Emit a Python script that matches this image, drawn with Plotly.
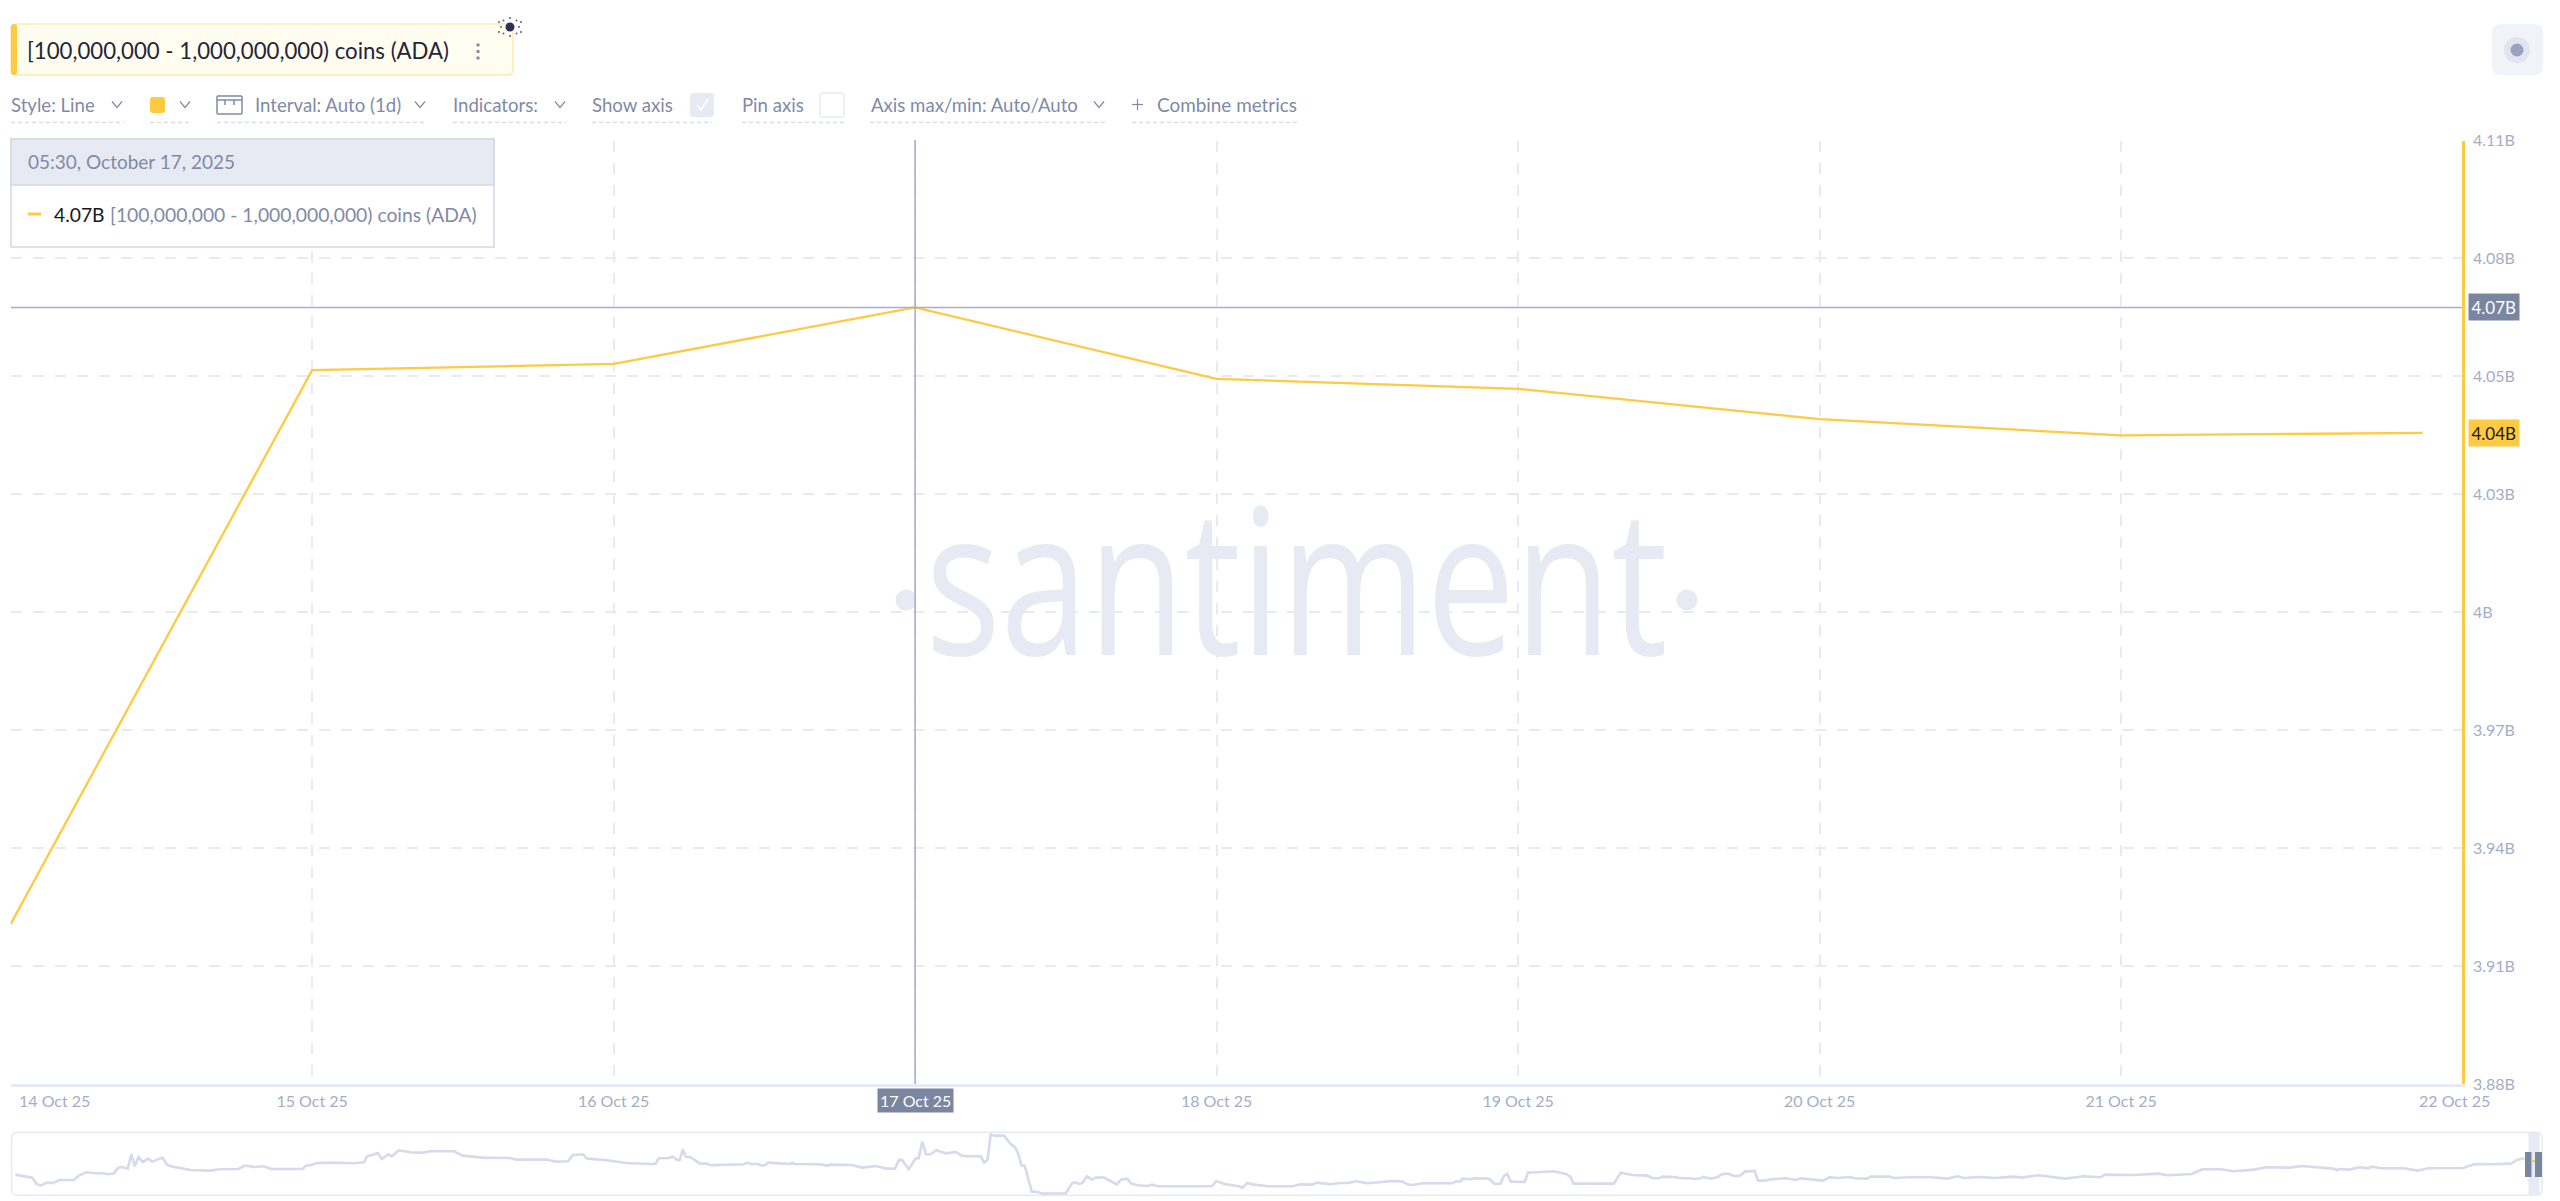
import plotly.graph_objects as go

W, H = 2560, 1201

# ---- data -----------------------------------------------------------------
dates = ["2025-10-14 05:30", "2025-10-15 05:30", "2025-10-16 05:30", "2025-10-17 05:30",
         "2025-10-18 05:30", "2025-10-19 05:30", "2025-10-20 05:30", "2025-10-21 05:30",
         "2025-10-22 05:30"]
values = [3.9225, 4.0559, 4.0574, 4.0710, 4.0538, 4.0514, 4.0441, 4.0402, 4.0408]
date_labels = ["14 Oct 25", "15 Oct 25", "16 Oct 25", "17 Oct 25", "18 Oct 25", "19 Oct 25",
               "20 Oct 25", "21 Oct 25", "22 Oct 25"]
y_ticks = [3.884, 3.9124, 3.9408, 3.9692, 3.9976, 4.026, 4.0544, 4.0828, 4.1112]
y_labels = ["3.88B", "3.91B", "3.94B", "3.97B", "4B", "4.03B", "4.05B", "4.08B", "4.11B"]
series_name = "[100,000,000 - 1,000,000,000) coins (ADA)"
hover_time = "05:30, October 17, 2025"

ov_a_pos = [37,60,78,87,98,113,128,143,178,190,208,230,250,262,275,285,295,308,317,325,334,344,358,367,392,403,420,460,505,530,575,590,615,635,655,730,738,750,765,800,855,878,885,903,911,921,937,945,962,990,1020,1040,1095,1115,1165,1230,1245,1320,1340,1370,1382,1405,1417,1460,1510,1568]
ov_a_lvl = [149,153,158,176,182,173,174,165,165,152,142,145,145,148,145,128,126,131,88,124,96,111,101,110,98,120,126,135,137,133,132,122,126,124,132,132,122,120,114,113,115,112,94,88,84,102,88,94,76,82,83,79,79,92,98,99,104,104,110,109,90,88,101,105,114,117]
ov_b_pos = [38,45,70,78,92,96,103,111,121,145,162,170,210,220,250,258,268,285,295,302,310,360,367,375,435,450,460,510,535,570,595,615,625,632,648,665,672,681,690,702,715,738,762,775,785,822,830,838,846,855,878,895,905,912,920,928,945,960,970,1027,1042,1048,1060,1068,1078,1090,1100,1118,1150,1160,1175,1185,1200,1225,1235,1250,1310,1320,1380,1390,1410,1445,1452,1465,1480,1515,1560]
ov_b_lvl = [116,100,99,95,106,105,74,96,96,116,116,121,120,118,118,113,117,117,122,120,113,117,114,117,118,122,119,120,128,123,131,131,104,105,133,100,100,50,88,87,76,85,81,92,94,94,113,105,28,32,32,58,68,85,121,123,200,201,206,205,175,172,177,173,154,164,158,157,178,164,161,176,181,183,179,184,184,186,184,168,177,184,189,174,179,184,185]
ov_c_pos = [30,50,78,90,120,145,165,185,210,240,270,295,310,320,345,415,425,435,440,460,470,478,495,505,517,532,540,548,557,590,598,620,660,690,700,708,805,822,850,885,900,915,922,950,970,990,1000,1015,1020,1040,1055,1065,1080,1095,1108,1122,1145,1153,1170,1185,1220,1245,1255,1310,1325,1345,1375,1385,1415,1425,1470,1480,1510]
ov_c_lvl = [184,178,179,173,178,174,174,169,175,172,168,170,179,180,175,175,169,170,161,163,159,161,160,162,177,176,153,147,170,171,143,142,139,147,155,176,176,143,150,152,160,160,155,156,160,160,162,160,156,161,157,148,146,153,153,140,138,167,167,163,160,165,160,167,157,159,156,160,161,155,155,159,156]
ov_d_pos = [0,50,90,115,130,170,205,250,270,310,340,375,420,460,470,540,600,620,680,705,750,780,830,860,915,945,1020,1030,1035,1060,1085,1105,1115,1135,1190,1225,1250,1335,1350,1365,1400,1450,1465,1482]
ov_d_lvl = [157,157,161,154,159,156,159,155,158,151,156,161,154,157,149,150,146,151,147,133,133,139,134,127,128,123,131,136,132,134,127,130,125,130,130,137,130,129,122,117,118,116,104,100]

# ---- style ----------------------------------------------------------------
YEL = "#ffc942"; GRID = "#e7eaf3"; TXT = "#7f8aa8"; TICK = "#a4adc8"; CROSS = "#a5aed0"; DARK = "#7a859f"
FONT = "Lato"

def fx(p): return p / W
def fy(p): return 1 - p / H

def rr(x0, y0, x1, y1, r):
    """rounded rectangle path, paper coordinates"""
    P = lambda a, b: f"{fx(a)},{fy(b)}"
    return (f"M {P(x0+r,y0)} L {P(x1-r,y0)} Q {P(x1,y0)} {P(x1,y0+r)} L {P(x1,y1-r)} Q {P(x1,y1)} {P(x1-r,y1)} "
            f"L {P(x0+r,y1)} Q {P(x0,y1)} {P(x0,y1-r)} L {P(x0,y0+r)} Q {P(x0,y0)} {P(x0+r,y0)} Z")

shapes, annos = [], []

def box(x0, y0, x1, y1, fill=None, line=None, lw=1.5, r=0, layer="above"):
    s = dict(type="path", xref="paper", yref="paper", path=rr(x0, y0, x1, y1, r), layer=layer,
             fillcolor=fill or "rgba(0,0,0,0)", line=dict(color=line or "rgba(0,0,0,0)", width=lw if line else 0))
    shapes.append(s)

def seg(pts, color, lw=1.5, dash=None):
    path = "M " + " L ".join(f"{fx(a)},{fy(b)}" for a, b in pts)
    shapes.append(dict(type="path", xref="paper", yref="paper", path=path, layer="above",
                       line=dict(color=color, width=lw, dash=dash)))

def oval(cx, cy, rx, ry, fill, layer="above"):
    shapes.append(dict(type="circle", xref="paper", yref="paper", layer=layer, fillcolor=fill,
                       line=dict(width=0), x0=fx(cx-rx), x1=fx(cx+rx), y0=fy(cy+ry), y1=fy(cy-ry)))

def text(x, y, s, size, color=TXT, anchor="left", family=FONT):
    annos.append(dict(xref="paper", yref="paper", x=fx(x), y=fy(y), text=s, showarrow=False,
                      xanchor=anchor, yanchor="middle", borderpad=0,
                      font=dict(family=family, size=size, color=color)))

def chevron(cx, cy):
    seg([(cx-5, cy-3), (cx, cy+3), (cx+5, cy-3)], TXT, 1.2)

def underline(x0, x1):
    seg([(x0, 122.5), (x1, 122.5)], "#d8dcea", 1.5, "4px,3px")

# metric chip
box(11, 24, 513, 75, fill="#fffcf0", line="#ffe9ae", lw=1.5, r=6)
box(11, 24, 17, 75, fill=YEL, r=3)
text(25.5, 50.5, series_name, 22.2, "#1f2638")
for yy in (45, 51.5, 58):
    oval(478, yy, 1.7, 1.7, TXT)
oval(510, 27, 4.5, 4.5, "#2b3158")
for dx, dy in ((-9,0),(9,0),(0,-9),(0,9),(-6.5,-6.5),(6.5,-6.5),(-6.5,6.5),(6.5,6.5),(-11,-5),(11,-5),(-11,5),(11,5)):
    oval(510+dx, 27+dy, 1, 1, "#5a6190")

# toolbar
TB = 104.5
TS = 18.6
text(10, TB, "Style: Line", TS); chevron(117, TB); underline(11, 124)
box(150, 97, 165, 113, fill=YEL, r=3); chevron(185, TB); underline(150, 190)
box(217, 96, 242, 114, line=TXT, lw=1.5, r=1)
seg([(217, 100), (242, 100)], TXT, 1.5)
seg([(225, 100), (225, 105)], TXT, 1.5); seg([(234, 100), (234, 105)], TXT, 1.5)
text(254, TB, "Interval: Auto (1d)", TS); chevron(420, TB); underline(217, 427)
text(452, TB, "Indicators:", TS); chevron(560, TB); underline(453, 566)
text(591, TB, "Show axis", TS); box(690, 93, 714, 117, fill=GRID, r=3)
seg([(697, 105), (701, 110), (708, 99)], "#ffffff", 1.8); underline(592, 712)
text(741, TB, "Pin axis", TS); box(820, 93, 844, 117, fill="#ffffff", line=GRID, lw=1.5, r=3); underline(742, 844)
text(869.5, TB, "Axis max/min: Auto/Auto", TS); chevron(1099, TB); underline(870, 1105)
seg([(1132, TB), (1143, TB)], TXT, 1.2); seg([(1137.5, TB-5.5), (1137.5, TB+5.5)], TXT, 1.2)
text(1156, TB, "Combine metrics", 18.9); underline(1132, 1300)

# record button
box(2492, 24, 2543, 75, fill="#f2f3f8", r=9)
oval(2517, 50, 13, 13, "#e2e5f0"); oval(2517, 50, 6.5, 6.5, "#98a3bf")

# tooltip
box(11, 139, 494, 247, fill="#ffffff", line="#d3d8e8", lw=1.5)
box(11, 139, 494, 185, fill=GRID, line="#d3d8e8", lw=1.5)
text(27, 162, hover_time, 19)
seg([(28, 214), (41, 214)], YEL, 3)
text(52.5, 214, f"{values[3]:.2f}B", 19.3, "#15181f")
text(108.5, 214, series_name, 19.3)

# watermark
text(1296, 576, "santiment", 204, GRID, "center", "Open Sans")
oval(906, 600, 10.5, 10.5, GRID); oval(1687, 600, 10.5, 10.5, GRID)

# edge date labels and highlighted labels
annos.append(dict(xref="paper", yref="paper", x=fx(16.5), y=fy(1100), text=date_labels[0], showarrow=False,
                  xanchor="left", yanchor="middle", font=dict(family=FONT, size=16, color=TICK)))
annos.append(dict(xref="paper", yref="paper", x=fx(2454), y=fy(1100), text=date_labels[8], showarrow=False,
                  xanchor="center", yanchor="middle", font=dict(family=FONT, size=16, color=TICK)))
annos.append(dict(xref="x", yref="paper", x=dates[3], y=fy(1100.5), text=date_labels[3], showarrow=False,
                  xanchor="center", yanchor="middle", bgcolor=DARK, borderpad=2,
                  font=dict(family=FONT, size=16, color="#ffffff")))
for idx, bg, fg in ((3, DARK, "#ffffff"), (8, YEL, "#15181f")):
    annos.append(dict(xref="paper", yref="y", x=fx(2494), y=values[idx], text=f"{values[idx]:.2f}B", showarrow=False,
                      xanchor="center", yanchor="middle", bgcolor=bg, borderpad=2.5,
                      font=dict(family=FONT, size=17, color=fg)))

# crosshair, drawn on the data axes
shapes.append(dict(type="line", xref="x", yref="paper", x0=dates[3], x1=dates[3], y0=fy(1084), y1=fy(140),
                   line=dict(color=CROSS, width=1.6), layer="above"))
shapes.append(dict(type="line", xref="paper", yref="y", x0=fx(11), x1=fx(2462), y0=values[3], y1=values[3],
                   line=dict(color=CROSS, width=1.6), layer="above"))

# overview frame and handle
box(11.6, 1132.3, 2542, 1195.3, line=GRID, lw=1.5, r=6, layer="below")
box(2528.5, 1133, 2539.5, 1194.5, fill=GRID)
box(2525, 1152, 2531.5, 1177, fill=DARK)
box(2535, 1152, 2542, 1177, fill=DARK)
seg([(2531.5, 1161), (2535, 1161)], YEL, 2)

# ---- figure ---------------------------------------------------------------
ZOOM = 2.412
ov_pos = ([p/ZOOM for p in ov_a_pos] + [640+p/ZOOM for p in ov_b_pos] +
          [1280+p/ZOOM for p in ov_c_pos] + [1910+p/ZOOM for p in ov_d_pos])
ov_lvl = ov_a_lvl + ov_b_lvl + ov_c_lvl + ov_d_lvl

fig = go.Figure()
fig.add_trace(go.Scatter(x=dates, y=values, mode="lines", line=dict(color=YEL, width=2.3),
                         xaxis="x", yaxis="y", name=series_name, showlegend=False))
fig.add_trace(go.Scatter(x=ov_pos, y=ov_lvl, mode="lines", line=dict(color="#d6daea", width=2.6),
                         xaxis="x2", yaxis="y2", showlegend=False))

fig.update_layout(
    width=W, height=H, margin=dict(l=0, r=0, t=0, b=0, autoexpand=False), paper_bgcolor="#ffffff", plot_bgcolor="#ffffff",
    hovermode=False, showlegend=False, font=dict(family=FONT),
    xaxis=dict(domain=[fx(10.6), fx(2462)], type="date", range=["2025-10-14 05:30", "2025-10-22 08:38"],
               tickvals=dates[:8], ticktext=[""] + date_labels[1:8], showgrid=True, gridcolor=GRID, gridwidth=2,
               griddash="11px,11px", zeroline=False, showline=True, linecolor=GRID, linewidth=2.5, ticks="",
               tickfont=dict(family=FONT, size=16, color=TICK), ticklabelstandoff=1, anchor="y"),
    yaxis=dict(domain=[fy(1084), fy(140.5)], range=[y_ticks[0], y_ticks[-1]], side="right", anchor="x",
               tickvals=y_ticks, ticktext=y_labels, showgrid=True, gridcolor=GRID, gridwidth=2,
               griddash="11px,11px", zeroline=False, showline=True, linecolor=YEL, linewidth=2.5, ticks="",
               tickfont=dict(family=FONT, size=16, color=TICK), ticklabelstandoff=5),
    xaxis2=dict(domain=[fx(11.6), fx(2542)], range=[11.6, 2542], visible=False, anchor="y2"),
    yaxis2=dict(domain=[fy(1195.3), fy(1132.3)], range=[211, 22], visible=False, anchor="x2"),
    shapes=shapes, annotations=annos,
)

squeeze = """
document.body.style.margin='0';document.body.style.overflow='hidden';
function squeezeMark(){document.querySelectorAll('text.annotation-text').forEach(function(t){
  if(t.textContent==='santiment'){t.setAttribute('textLength','742');t.setAttribute('lengthAdjust','spacingAndGlyphs');}
});}
squeezeMark();setTimeout(squeezeMark,200);setTimeout(squeezeMark,800);
"""
fig.write_html("out.html", config=dict(displayModeBar=False), post_script=squeeze)
